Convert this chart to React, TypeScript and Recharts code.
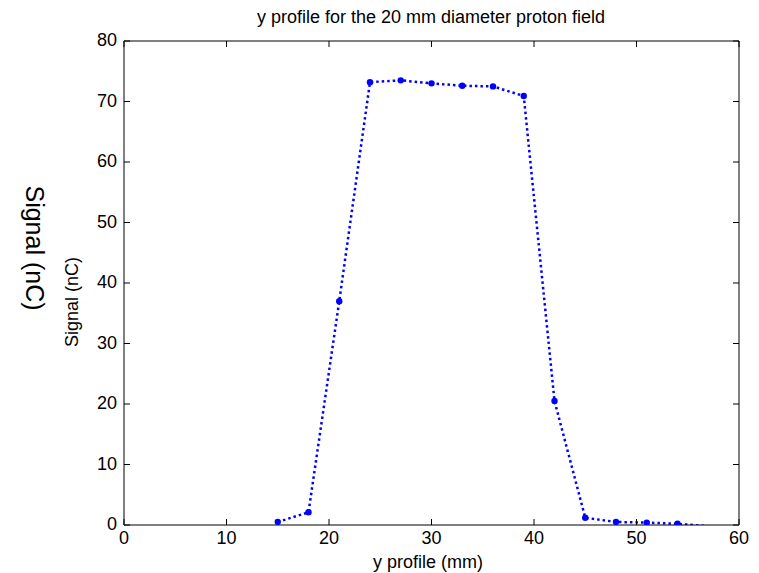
import React from 'react';
import { LineChart, Line, XAxis, YAxis } from 'recharts';

const positions = [15, 18, 21, 24, 27, 30, 33, 36, 39, 42, 45, 48, 51, 54, 57];
const signal = [0.5, 2.1, 37.0, 73.2, 73.5, 73.0, 72.6, 72.5, 70.9, 20.5, 1.2, 0.5, 0.4, 0.2, -0.2];
const xTicks = [0, 10, 20, 30, 40, 50, 60];
const yTicks = [0, 10, 20, 30, 40, 50, 60, 70, 80];

const data = positions.map((y, i) => ({ y, signal: signal[i] }));

const FONT = '"Liberation Sans", Arial, Helvetica, sans-serif';
const TICK = 6;

const BottomTick = (props: any) => {
  const { x, y, payload } = props;
  return (
    <g>
      <line x1={x} y1={y} x2={x} y2={y - TICK} stroke="#000" strokeWidth={1} />
      <text x={x} y={y + 19} textAnchor="middle" fontSize={18} fontFamily={FONT} fill="#000">
        {payload.value}
      </text>
    </g>
  );
};

const LeftTick = (props: any) => {
  const { x, y, payload } = props;
  return (
    <g>
      <line x1={x} y1={y} x2={x + TICK} y2={y} stroke="#000" strokeWidth={1} />
      <text x={x - 7} y={y + 5} textAnchor="end" fontSize={18} fontFamily={FONT} fill="#000">
        {payload.value}
      </text>
    </g>
  );
};

const TopTick = (props: any) => {
  const { x, y } = props;
  return <line x1={x} y1={y} x2={x} y2={y + TICK} stroke="#000" strokeWidth={1} />;
};

const RightTick = (props: any) => {
  const { x, y } = props;
  return <line x1={x} y1={y} x2={x - TICK} y2={y} stroke="#000" strokeWidth={1} />;
};

const Dot = (props: any) => {
  const { cx, cy, payload, index } = props;
  if (payload.signal < 0) return <g key={`d-${index}`} />;
  return <circle key={`d-${index}`} cx={cx} cy={cy} r={3.2} fill="#0000ff" />;
};

export default function App() {
  return (
    <div style={{ position: 'absolute', left: 0, top: 0, width: 759, height: 573, background: '#fff' }}>
      <LineChart width={759} height={573} data={data} margin={{ top: 40, right: 19, bottom: 0, left: 0 }}>
        <XAxis
          dataKey="y"
          type="number"
          domain={[0, 60]}
          ticks={xTicks}
          height={48}
          tickSize={0}
          tickMargin={0}
          tickLine={false}
          tick={<BottomTick />}
          axisLine={{ stroke: '#000' }}
        />
        <XAxis
          xAxisId="top"
          dataKey="y"
          type="number"
          orientation="top"
          domain={[0, 60]}
          ticks={xTicks}
          height={1}
          tickSize={0}
          tickMargin={0}
          tickLine={false}
          tick={<TopTick />}
          axisLine={{ stroke: '#000' }}
        />
        <YAxis
          type="number"
          domain={[0, 80]}
          ticks={yTicks}
          width={124}
          tickSize={0}
          tickMargin={0}
          tickLine={false}
          tick={<LeftTick />}
          axisLine={{ stroke: '#000' }}
          allowDataOverflow
        />
        <YAxis
          yAxisId="right"
          type="number"
          orientation="right"
          domain={[0, 80]}
          ticks={yTicks}
          width={1}
          tickSize={0}
          tickMargin={0}
          tickLine={false}
          tick={<RightTick />}
          axisLine={{ stroke: '#000' }}
          allowDataOverflow
        />
        {/* invisible series so the top/right frame axes get drawn */}
        <Line
          xAxisId="top"
          yAxisId="right"
          dataKey="signal"
          stroke="none"
          dot={false}
          activeDot={false}
          legendType="none"
          isAnimationActive={false}
        />
        <Line
          dataKey="signal"
          stroke="#0000ff"
          strokeWidth={2.5}
          strokeDasharray="2.5 3"
          dot={<Dot />}
          activeDot={false}
          isAnimationActive={false}
        />
      </LineChart>
      <svg width={759} height={573} style={{ position: 'absolute', left: 0, top: 0, pointerEvents: 'none' }}>
        <text x={431} y={23} textAnchor="middle" fontSize={18} fontFamily={FONT} fill="#000">
          y profile for the 20 mm diameter proton field
        </text>
        <text x={428} y={568} textAnchor="middle" fontSize={18} fontFamily={FONT} fill="#000">
          y profile (mm)
        </text>
        <text
          x={0}
          y={0}
          transform="translate(78, 302) rotate(-90)"
          textAnchor="middle"
          fontSize={18}
          fontFamily={FONT}
          fill="#000"
        >
          Signal (nC)
        </text>
        <text
          x={0}
          y={0}
          transform="translate(26, 248) rotate(90)"
          textAnchor="middle"
          fontSize={25}
          fontFamily={FONT}
          fill="#000"
        >
          Signal (nC)
        </text>
      </svg>
    </div>
  );
}
